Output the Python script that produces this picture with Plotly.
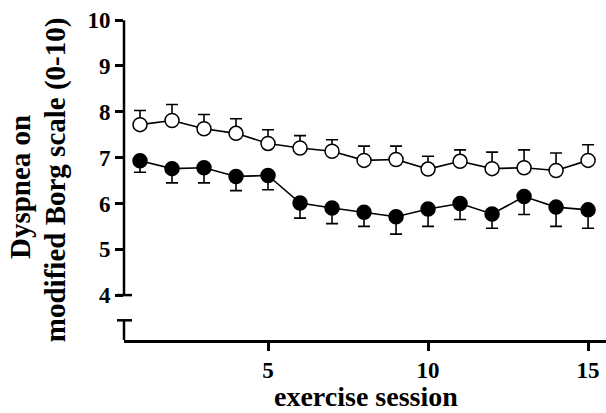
import plotly.graph_objects as go

sessions = list(range(1, 16))
open_mean = [7.72, 7.81, 7.63, 7.53, 7.31, 7.21, 7.14, 6.94, 6.96, 6.75, 6.92, 6.76, 6.78, 6.72, 6.94]
open_upper = [8.03, 8.16, 7.94, 7.85, 7.61, 7.48, 7.39, 7.25, 7.25, 7.03, 7.17, 7.12, 7.17, 7.10, 7.28]
filled_mean = [6.93, 6.76, 6.78, 6.59, 6.61, 6.01, 5.90, 5.81, 5.71, 5.88, 6.00, 5.77, 6.15, 5.92, 5.86]
filled_lower = [6.68, 6.45, 6.45, 6.28, 6.30, 5.68, 5.56, 5.50, 5.33, 5.50, 5.65, 5.46, 5.76, 5.50, 5.46]
y_ticks = [4, 5, 6, 7, 8, 9, 10]
x_ticks = [5, 10, 15]

FONT = "Liberation Serif, Times New Roman, serif"
BLACK = "black"

open_err = [u - m for u, m in zip(open_upper, open_mean)]
filled_err = [m - l for m, l in zip(filled_mean, filled_lower)]

fig = go.Figure()
fig.add_trace(go.Scatter(
    x=sessions, y=filled_mean, mode="lines+markers",
    line=dict(color=BLACK, width=1.6),
    marker=dict(symbol="circle", size=14, color=BLACK, line=dict(color=BLACK, width=1.5)),
    error_y=dict(type="data", symmetric=False, array=[0]*15, arrayminus=filled_err,
                 color=BLACK, thickness=1.6, width=6),
    showlegend=False, cliponaxis=False))
fig.add_trace(go.Scatter(
    x=sessions, y=open_mean, mode="lines+markers",
    line=dict(color=BLACK, width=1.6),
    marker=dict(symbol="circle", size=14, color="white", line=dict(color=BLACK, width=1.5)),
    error_y=dict(type="data", symmetric=False, array=open_err, arrayminus=[0]*15,
                 color=BLACK, thickness=1.6, width=6),
    showlegend=False, cliponaxis=False))

# broken y axis line
AX_W = 2.5
fig.add_shape(type="line", xref="paper", yref="y", x0=0, x1=0, y0=4, y1=10.0,
              line=dict(color=BLACK, width=AX_W))
fig.add_shape(type="line", xref="paper", yref="y", x0=0, x1=0, y0=3.0, y1=3.45,
              line=dict(color=BLACK, width=AX_W))
fig.add_shape(type="line", xref="paper", xsizemode="pixel", xanchor=0, x0=-7, x1=8,
              yref="y", y0=3.45, y1=3.45, line=dict(color=BLACK, width=AX_W))
fig.add_shape(type="line", xref="paper", xsizemode="pixel", xanchor=0, x0=-7, x1=8,
              yref="y", y0=4, y1=4, line=dict(color=BLACK, width=AX_W))

TITLE_FONT = dict(family=FONT, size=29, color=BLACK)
fig.add_annotation(text="<b>Dyspnea on</b>", xref="paper", yref="paper", x=-0.2158, y=0.465,
                   textangle=-90, showarrow=False, font=TITLE_FONT,
                   xanchor="center", yanchor="middle")
fig.add_annotation(text="<b>modified Borg scale (0-10)</b>", xref="paper", yref="paper", x=-0.143, y=0.486,
                   textangle=-90, showarrow=False, font=TITLE_FONT,
                   xanchor="center", yanchor="middle")
fig.add_annotation(text="<b>exercise session</b>", xref="paper", yref="paper", x=0.502, y=-0.2219,
                   showarrow=False, font=dict(family=FONT, size=28, color=BLACK),
                   xanchor="center", yanchor="bottom", borderpad=0)

fig.update_layout(
    width=606, height=413,
    margin=dict(l=124, r=0, t=11, b=73),
    paper_bgcolor="white", plot_bgcolor="white",
    font=dict(family=FONT, color=BLACK),
    xaxis=dict(range=[0.5, 15.56], tickvals=x_ticks, ticktext=[f"<b>{v}</b>" for v in x_ticks],
               ticks="outside", ticklen=8, tickwidth=AX_W, tickcolor=BLACK,
               showline=True, linewidth=AX_W, linecolor=BLACK, showgrid=False, zeroline=False,
               tickfont=dict(family=FONT, size=23, color=BLACK)),
    yaxis=dict(range=[3.02, 10.2], tickvals=y_ticks, ticktext=[f"<b>{v}</b>" for v in y_ticks],
               ticks="outside", ticklen=8, tickwidth=AX_W, tickcolor=BLACK,
               showline=False, showgrid=False, zeroline=False,
               tickfont=dict(family=FONT, size=23, color=BLACK)),
)

fig.write_html("out.html", config={"displayModeBar": False},
               post_script="document.body.style.margin='0';")
